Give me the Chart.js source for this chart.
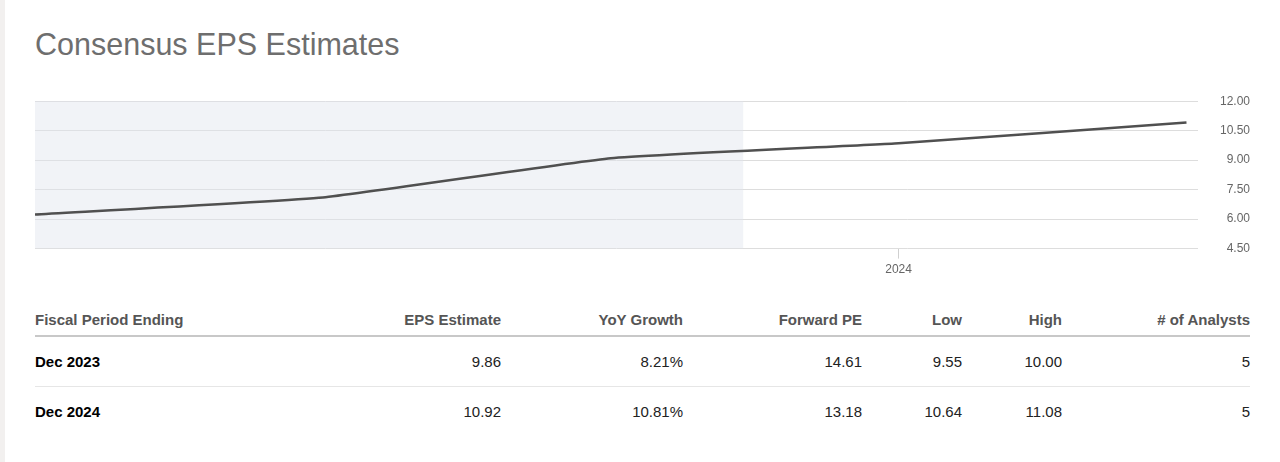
<!DOCTYPE html>
<html>
<head>
<meta charset="utf-8">
<script src="https://cdn.jsdelivr.net/npm/chart.js@4/dist/chart.umd.min.js"></script>
<style>
  html, body { margin: 0; padding: 0; background: #fff; }
  body { width: 1280px; height: 462px; position: relative; overflow: hidden; font-family: "Liberation Sans", Arial, sans-serif; }
  .edge { position: absolute; left: 0; top: 0; width: 5px; height: 462px; background: #f2f0ef; }
  h1 { position: absolute; left: 35px; top: 26px; margin: 0; font-weight: normal; font-size: 30.5px; color: #6e6e6e; line-height: 36px; }
  .chartBox { position: absolute; left: 35px; top: 94px; width: 1215px; height: 187px; }
  table { position: absolute; left: 35px; top: 303px; width: 1215px; border-collapse: collapse; font-size: 15px; }
  th { text-align: right; color: #555; font-weight: bold; height: 32px; padding: 0; border-bottom: 2px solid #c8c8c8; }
  td { text-align: right; color: #222; height: 49px; padding: 0; border-bottom: 1px solid #e6e6e6; }
  tr:last-child td { border-bottom: none; }
  th:first-child, td:first-child { text-align: left; }
  td:first-child { font-weight: bold; color: #000; }
</style>
</head>
<body>
<div class="edge"></div>
<h1>Consensus EPS Estimates</h1>
<div class="chartBox"><canvas id="myChart"></canvas></div>
<table id="tbl"></table>
<script>
const years = [2021, 2022, 2023, 2024, 2025];
const eps = [6.24, 7.10, 9.10, 9.86, 10.92];
const yTicks = [4.5, 6, 7.5, 9, 10.5, 12];
const xTickLabels = [2024];
const todayMark = 2023.46;

const headers = ['Fiscal Period Ending', 'EPS Estimate', 'YoY Growth', 'Forward PE', 'Low', 'High', '# of Analysts'];
const periods = ['Dec 2023', 'Dec 2024'];
const epsEstimate = ['9.86', '10.92'];
const yoyGrowth = ['8.21%', '10.81%'];
const forwardPE = ['14.61', '13.18'];
const lowEst = ['9.55', '10.64'];
const highEst = ['10.00', '11.08'];
const analysts = ['5', '5'];

// table
const colWidths = [290, 176, 182, 179, 100, 100, 188];
let html = '<tr>' + headers.map((h, i) => '<th style="width:' + colWidths[i] + 'px">' + h + '</th>').join('') + '</tr>';
periods.forEach((p, i) => {
    html += '<tr><td>' + p + '</td><td>' + epsEstimate[i] + '</td><td>' + yoyGrowth[i] + '</td><td>' +
        forwardPE[i] + '</td><td>' + lowEst[i] + '</td><td>' + highEst[i] + '</td><td>' + analysts[i] + '</td></tr>';
});
document.getElementById('tbl').innerHTML = html;

// shaded history area up to today
const shadePlugin = {
    id: 'shade',
    beforeDatasetsDraw(chart) {
        const { ctx, chartArea, scales } = chart;
        const xEnd = scales.x.getPixelForValue(todayMark);
        ctx.save();
        ctx.fillStyle = 'rgba(225, 229, 237, 0.45)';
        ctx.fillRect(chartArea.left, chartArea.top, xEnd - chartArea.left, chartArea.bottom - chartArea.top);
        ctx.restore();
    }
};

const data = {
    datasets: [{
        label: 'EPS',
        data: years.map((y, i) => ({ x: y, y: eps[i] })),
        borderColor: '#505050',
        borderWidth: 2.5,
        pointRadius: 0,
        tension: 0.12,
        fill: false,
    }]
};

const config = {
    type: 'line',
    data: data,
    options: {
        responsive: true,
        maintainAspectRatio: false,
        animation: false,
        layout: { padding: { top: 5, right: 0, left: 0, bottom: 0 } },
        plugins: { legend: { display: false }, tooltip: { enabled: false } },
        scales: {
            x: {
                type: 'linear',
                min: 2021,
                max: 2025.04,
                afterBuildTicks: s => { s.ticks = xTickLabels.map(v => ({ value: v })); },
                ticks: {
                    color: '#666',
                    font: { family: 'Liberation Sans', size: 12 },
                    padding: 4,
                    callback: v => String(v),
                },
                grid: { drawOnChartArea: false, drawTicks: true, tickLength: 10, color: '#d0d0d0' },
                border: { display: false },
            },
            y: {
                position: 'right',
                min: 4.5,
                max: 12,
                afterBuildTicks: s => { s.ticks = yTicks.map(v => ({ value: v })); },
                afterFit: s => { s.width = 52; },
                ticks: {
                    color: '#666',
                    font: { family: 'Liberation Sans', size: 12 },
                    crossAlign: 'far',
                    padding: 0,
                    callback: v => v.toFixed(2),
                },
                grid: { color: '#dddddd', lineWidth: 1, drawTicks: false },
                border: { display: false },
            }
        }
    },
    plugins: [shadePlugin]
};

new Chart(document.getElementById('myChart'), config);
</script>
</body>
</html>
